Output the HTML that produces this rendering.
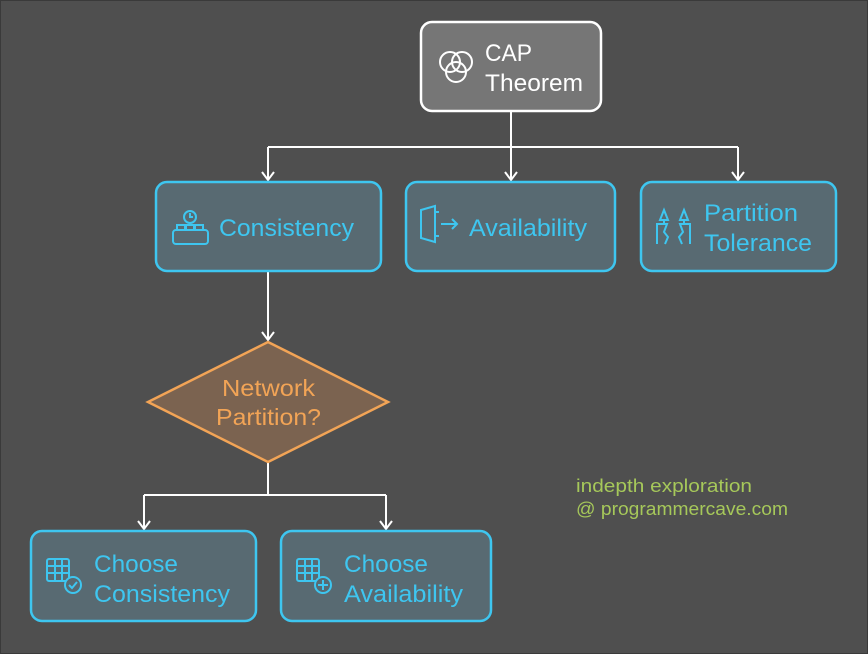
<!DOCTYPE html>
<html><head><style>body{margin:0;background:#4f4f4f}svg{display:block}</style></head><body>
<svg width="868" height="654" viewBox="0 0 868 654" xmlns="http://www.w3.org/2000/svg" font-family="Liberation Sans, sans-serif">
<rect x="0" y="0" width="868" height="654" fill="#4f4f4f" stroke="#3a3a3a" stroke-width="2"/>
<g stroke="#fff" stroke-width="2" fill="none">
<path d="M511 111V147M268 147H738M268 147V180M511 147V180M738 147V180"/>
<path d="M262 172l6 8 6-8M505 172l6 8 6-8M732 172l6 8 6-8"/>
<path d="M268 271V340M262 332l6 8 6-8"/>
<path d="M268 462V495M144 495H386M144 495V529M386 495V529M138 521l6 8 6-8M380 521l6 8 6-8"/>
</g>
<rect x="421" y="22" width="180" height="89" rx="11" fill="#767676" stroke="#fff" stroke-width="2.5"/>
<g stroke="#fff" stroke-width="2" fill="none"><circle cx="450" cy="62" r="10"/><circle cx="462" cy="62" r="10"/><circle cx="456" cy="72" r="10"/></g>
<text x="485" y="61" fill="#fff" font-size="24" textLength="47" lengthAdjust="spacingAndGlyphs">CAP</text>
<text x="485" y="91" fill="#fff" font-size="24" textLength="98" lengthAdjust="spacingAndGlyphs">Theorem</text>
<g fill="#586a72" stroke="#3ec6f0" stroke-width="2.5">
<rect x="156" y="182" width="225" height="89" rx="11"/>
<rect x="406" y="182" width="209" height="89" rx="11"/>
<rect x="641" y="182" width="195" height="89" rx="11"/>
<rect x="31" y="531" width="225" height="90" rx="11"/>
<rect x="281" y="531" width="210" height="90" rx="11"/>
</g>
<g stroke="#3ec6f0" stroke-width="2" fill="none">
<circle cx="190" cy="217" r="6"/><path d="M190 213v4h3"/><rect x="173" y="230" width="35" height="14" rx="3"/><path d="M177 230v-5h8v5M186 230v-5h8v5M195 230v-5h8v5"/>
<path d="M421 210l14-4v36l-14-4zM435 212h4M435 236h4M441 224h16M452 219l5 5-5 5"/>
<path d="M660 220l4-10 4 10zM680 220l4-10 4 10zM664 220v4M684 220v4M657 244v-20h10l-3 8 4 5-3 7M690 244v-20h-10l3 8-4 5 3 7"/>
<rect x="47" y="559" width="22" height="22" rx="2"/><path d="M47 566h22M47 573h22M55 559v22M62 559v22"/><circle cx="73" cy="585" r="8" fill="#586a72"/><path d="M69 585l3 3 5-6"/>
<rect x="297" y="559" width="22" height="22" rx="2"/><path d="M297 566h22M297 573h22M305 559v22M312 559v22"/><circle cx="323" cy="585" r="8" fill="#586a72"/><path d="M323 580v10M318 585h10"/>
</g>
<g fill="#3ec6f0" font-size="24" lengthAdjust="spacingAndGlyphs">
<text x="219" y="236" textLength="135" lengthAdjust="spacingAndGlyphs">Consistency</text>
<text x="469" y="236" textLength="118" lengthAdjust="spacingAndGlyphs">Availability</text>
<text x="704" y="221" textLength="94" lengthAdjust="spacingAndGlyphs">Partition</text>
<text x="704" y="251" textLength="108" lengthAdjust="spacingAndGlyphs">Tolerance</text>
<text x="94" y="572" textLength="84" lengthAdjust="spacingAndGlyphs">Choose</text>
<text x="94" y="602" textLength="136" lengthAdjust="spacingAndGlyphs">Consistency</text>
<text x="344" y="572" textLength="84" lengthAdjust="spacingAndGlyphs">Choose</text>
<text x="344" y="602" textLength="119" lengthAdjust="spacingAndGlyphs">Availability</text>
</g>
<polygon points="268,342 388,402 268,462 148,402" fill="#7b6350" stroke="#f2a456" stroke-width="2.5"/>
<text x="222" y="396" fill="#f2a456" font-size="23" textLength="93" lengthAdjust="spacingAndGlyphs">Network</text>
<text x="216" y="425" fill="#f2a456" font-size="23" textLength="105" lengthAdjust="spacingAndGlyphs">Partition?</text>
<text x="576" y="492" fill="#a6c85a" font-size="18" textLength="176" lengthAdjust="spacingAndGlyphs">indepth exploration</text>
<text x="576" y="515" fill="#a6c85a" font-size="18" textLength="212" lengthAdjust="spacingAndGlyphs">@ programmercave.com</text>
</svg>
</body></html>
